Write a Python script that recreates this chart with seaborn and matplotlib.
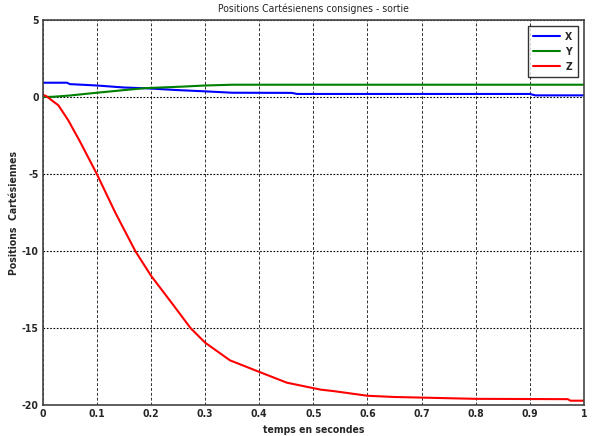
import matplotlib
matplotlib.use('Agg')
import matplotlib.pyplot as plt
import seaborn as sns
import pandas as pd

# values
t_x = [0, 0.045, 0.05, 0.1, 0.15, 0.19, 0.25, 0.3, 0.35, 0.46, 0.47, 0.9, 0.91, 1.0]
x_vals = [0.93, 0.93, 0.84, 0.75, 0.62, 0.57, 0.45, 0.37, 0.28, 0.27, 0.2, 0.2, 0.11, 0.11]

t_y = [0, 0.02, 0.05, 0.1, 0.15, 0.19, 0.26, 0.3, 0.35, 0.5, 1.0]
y_vals = [0, 0.02, 0.1, 0.28, 0.45, 0.58, 0.68, 0.75, 0.8, 0.8, 0.8]

t_z = [0, 0.007, 0.029, 0.047, 0.069, 0.1, 0.134, 0.171, 0.2, 0.24, 0.273, 0.3,
       0.346, 0.4, 0.451, 0.513, 0.538, 0.6, 0.65, 0.7, 0.8, 0.97, 0.975, 1.0]
z_vals = [0.15, 0.05, -0.54, -1.5, -2.9, -5, -7.5, -10, -11.6, -13.45, -15, -15.95,
          -17.1, -17.85, -18.55, -19.0, -19.1, -19.4, -19.48, -19.52, -19.6, -19.62, -19.72, -19.72]

x_ticks = [0, 0.1, 0.2, 0.3, 0.4, 0.5, 0.6, 0.7, 0.8, 0.9, 1]
x_tick_labels = ['0', '0.1', '0.2', '0.3', '0.4', '0.5', '0.6', '0.7', '0.8', '0.9', '1']
y_ticks = [-20, -15, -10, -5, 0, 5]

sns.set_style('white')
plt.rcParams['font.family'] = ['DejaVu Sans']
plt.rcParams['font.stretch'] = 'condensed'
plt.rcParams['axes.unicode_minus'] = False

df = pd.concat([
    pd.DataFrame({'t': t_x, 'val': x_vals, 'serie': 'X'}),
    pd.DataFrame({'t': t_y, 'val': y_vals, 'serie': 'Y'}),
    pd.DataFrame({'t': t_z, 'val': z_vals, 'serie': 'Z'}),
])

fig = plt.figure(figsize=(5.95, 4.36), dpi=100)
ax = fig.add_axes([0.0718, 0.0711, 0.9097, 0.8829])

sns.lineplot(data=df, x='t', y='val', hue='serie', sort=False, estimator=None,
             palette={'X': '#0000ff', 'Y': '#008000', 'Z': '#ff0000'},
             linewidth=1.5, ax=ax)

ax.set_xlim(0, 1)
ax.set_ylim(-20, 5)
ax.set_xticks(x_ticks)
ax.set_xticklabels(x_tick_labels)
ax.set_yticks(y_ticks)
ax.tick_params(length=0, labelsize=7.5, pad=3)
for lab in ax.get_xticklabels() + ax.get_yticklabels():
    lab.set_fontweight('bold')

# vertical grid dashed, horizontal dotted
ax.xaxis.grid(True, color='#333333', linestyle=(0, (3, 2)), linewidth=0.7)
ax.yaxis.grid(True, color='black', linestyle=(0, (1.5, 1.5)), linewidth=0.8)
for sp in ax.spines.values():
    sp.set_color('#444444')
    sp.set_linewidth(1.2)

ax.set_title('Positions Cartésienens consignes - sortie', fontsize=7.5, pad=6)
ax.set_xlabel('temps en secondes', fontsize=7.5, fontweight='bold', labelpad=4)
ax.set_ylabel('Positions  Cartésiennes', fontsize=7.5, fontweight='bold', labelpad=2)

leg = ax.legend(loc='upper right', fontsize=7.5, frameon=True, fancybox=False,
                edgecolor='black', handlelength=2.6, borderaxespad=0.6,
                labelspacing=0.5, handletextpad=0.5, borderpad=0.5)
leg.get_frame().set_linewidth(1)
for txt in leg.get_texts():
    txt.set_fontweight('bold')

fig.savefig('out.png', dpi=100)
